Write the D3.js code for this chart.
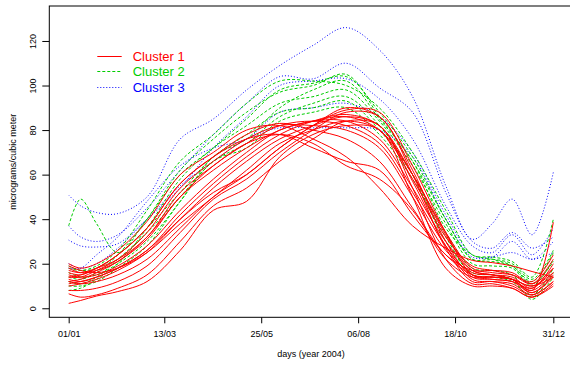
<!DOCTYPE html>
<html>
<head>
<meta charset="utf-8">
<script src="https://cdn.jsdelivr.net/npm/d3@7"></script>
<style>
  body { margin: 0; background: #fff; }
  text { font-family: "Liberation Sans", Arial, Helvetica, sans-serif; }
</style>
</head>
<body>
<div id="chart"></div>
<script>
// day of year where each curve is sampled
const days = [1, 10, 22, 38, 60, 85, 110, 135, 160, 185, 210, 235, 260, 285, 305, 320, 335, 350, 366];

// cluster 1 (red, solid)
const cluster1 = [
  [20, 18, 20, 26, 39, 60, 70, 80, 82, 76, 68, 54, 37, 27, 21.5, 20.5, 19, 16.5, 14],
  [14, 15, 18, 24, 36, 56, 68, 76, 78, 72, 66, 62, 42, 24, 15, 14, 13, 10, 16],
  [17, 16, 18, 22, 32, 52, 64, 74, 78, 74, 64, 58, 44, 22, 14, 14, 13, 10, 14],
  [16, 15, 18, 24, 36, 56, 68, 78, 83, 80, 76, 66, 45, 24, 17, 17, 16, 11, 18],
  [14, 14, 17, 22, 34, 54, 66, 76, 82, 82, 80, 72, 50, 26, 16, 15, 14, 9, 20],
  [18, 16, 17, 21, 32, 50, 64, 74, 82, 84, 82, 74, 52, 28, 15, 14, 13, 8, 38.6],
  [12, 13, 16, 21, 31, 50, 62, 72, 80, 84, 84, 76, 54, 30, 17, 15, 13, 7, 14],
  [15, 14, 15, 19, 28, 44, 58, 70, 80, 84, 86, 80, 58, 32, 19, 17, 15, 11, 22],
  [13, 12, 14, 18, 26, 42, 56, 68, 78, 84, 87, 82, 60, 33, 17, 15, 13, 8, 16],
  [10, 11, 13, 17, 25, 40, 54, 66, 76, 82, 86, 82, 57, 28, 13, 12, 11, 6, 12],
  [19, 17, 16, 18, 25, 38, 50, 62, 74, 80, 84, 80, 60, 34, 18, 16, 15, 12, 24],
  [2.2, 3.5, 5.5, 7.5, 12, 26, 44, 48, 68, 78, 82, 80, 50, 18, 10, 10, 9, 5, 10],
  [6.5, 5, 6, 9, 15, 30, 46, 54, 66, 76, 84, 82, 54, 22, 11, 11, 9, 5, 11],
  [8, 8, 9, 12, 19, 34, 49, 58, 70, 80, 88, 86, 60, 27, 12, 12, 10, 6, 12],
  [12, 11, 12, 15, 22, 36, 50, 60, 72, 82, 89, 88, 64, 34, 15, 13, 12, 7, 15],
  [11, 12, 14, 18, 26, 40, 52, 60, 72, 82, 90, 86, 62, 30, 14, 13, 12, 9, 18]
];

// cluster 2 (green, dashed)
const cluster2 = [
  [37, 49, 38, 25, 40, 60, 72, 85, 98, 101, 104, 88, 68, 40, 22, 21, 19, 12, 25],
  [18, 17, 19, 26, 44, 66, 78, 92, 102, 102, 100, 90, 70, 44, 24, 23, 21, 14, 40],
  [14, 13, 16, 24, 40, 62, 76, 88, 97, 100, 105, 86, 66, 40, 22, 22, 20, 13, 26],
  [8, 9, 13, 20, 36, 58, 72, 82, 92, 95, 98, 84, 64, 38, 20, 19, 18, 10, 22],
  [19, 17, 18, 24, 36, 52, 68, 78, 88, 90, 93, 80, 60, 34, 18, 17, 15, 6, 18],
  [12, 11, 14, 22, 34, 50, 66, 74, 86, 92, 95, 82, 60, 30, 16, 15, 13, 4, 14],
  [16, 14, 15, 20, 30, 48, 68, 76, 90, 98, 102, 85, 66, 36, 24, 22, 19, 11, 21],
  [10, 10, 12, 18, 28, 48, 66, 72, 84, 88, 90, 78, 58, 32, 15, 14, 12, 5, 16]
];

// cluster 3 (blue, dotted)
const cluster3 = [
  [50.8, 46, 43, 42.5, 50, 76, 85, 98, 109, 118, 126, 116, 95, 55, 31, 38, 49, 33, 61],
  [37, 32, 30, 33, 45, 62, 78, 92, 104, 103, 110, 99, 88, 52, 30, 27, 34, 27, 32],
  [30.6, 28, 27.5, 29, 40, 54, 72, 86, 100, 102, 103, 94, 76, 46, 28, 25, 33, 24, 36],
  [18, 18, 24, 32, 48, 64, 72, 76, 88, 90, 92, 86, 70, 42, 24, 23, 30, 22, 30],
  [20, 18, 20, 27, 40, 55, 66, 76, 81, 81, 81, 80, 68, 40, 23, 23, 25, 22, 25]
];

const xTickDays = [1, 73, 146, 219, 292, 366];
const xTickLabels = ['01/01', '13/03', '25/05', '06/08', '18/10', '31/12'];
const yTicks = [0, 20, 40, 60, 80, 100, 120];
const legendLabels = ['Cluster 1', 'Cluster 2', 'Cluster 3'];

const colors = ['#ff0000', '#00cd00', '#0000ff'];
const dashes = [null, '3,2', '1,2'];

const width = 570, height = 365;
const plot = { left: 49.3, right: 572.7, top: 6, bottom: 317.3 };

const svg = d3.select('#chart')
  .append('svg')
  .attr('width', width)
  .attr('height', height);

const x = d3.scaleLinear().domain([-13.6, 380.6]).range([plot.left, plot.right]);
const y = d3.scaleLinear().domain([-4.05, 135.7]).range([plot.bottom, plot.top]);

const line = d3.line()
  .x((d, i) => x(days[i]))
  .y(d => y(d))
  .curve(d3.curveCatmullRom.alpha(0.5));

const clusters = [cluster3, cluster2, cluster1];
const clusterIdx = [2, 1, 0];

clusters.forEach((curves, k) => {
  const c = clusterIdx[k];
  svg.append('g')
    .selectAll('path')
    .data(curves)
    .join('path')
    .attr('d', line)
    .attr('fill', 'none')
    .attr('stroke', colors[c])
    .attr('stroke-width', 1)
    .attr('stroke-dasharray', dashes[c]);
});

// box
svg.append('rect')
  .attr('x', plot.left)
  .attr('y', plot.top)
  .attr('width', plot.right - plot.left)
  .attr('height', plot.bottom - plot.top)
  .attr('fill', 'none')
  .attr('stroke', '#000')
  .attr('stroke-width', 1);

const xAxis = svg.append('g')
  .attr('transform', `translate(0,${plot.bottom})`)
  .call(d3.axisBottom(x)
    .tickValues(xTickDays)
    .tickFormat((d, i) => xTickLabels[i])
    .tickSize(6));
xAxis.select('.domain').remove();
xAxis.selectAll('text')
  .attr('y', 20)
  .attr('dy', 0)
  .style('font-size', '9px')
  .style('fill', '#000');

const yAxis = svg.append('g')
  .attr('transform', `translate(${plot.left},0)`)
  .call(d3.axisLeft(y).tickValues(yTicks).tickSize(7));
yAxis.select('.domain').remove();
yAxis.selectAll('text')
  .attr('transform', 'rotate(-90)')
  .attr('x', 0)
  .attr('y', -13)
  .attr('dy', 0)
  .attr('text-anchor', 'middle')
  .style('font-size', '9px')
  .style('fill', '#000');

svg.append('text')
  .attr('x', (plot.left + plot.right) / 2)
  .attr('y', 357)
  .attr('text-anchor', 'middle')
  .style('font-size', '9px')
  .text('days (year 2004)');

svg.append('text')
  .attr('transform', `translate(16,${(plot.top + plot.bottom) / 2}) rotate(-90)`)
  .attr('text-anchor', 'middle')
  .style('font-size', '9px')
  .text('micrograms/cubic meter');

// legend
const legendY = [56.5, 71.5, 87.5];
legendLabels.forEach((label, i) => {
  svg.append('line')
    .attr('x1', 97.3)
    .attr('x2', 121.7)
    .attr('y1', legendY[i])
    .attr('y2', legendY[i])
    .attr('stroke', colors[i])
    .attr('stroke-width', 1)
    .attr('stroke-dasharray', dashes[i]);
  svg.append('text')
    .attr('x', 132.7)
    .attr('y', legendY[i] + 4.5)
    .style('font-size', '13px')
    .style('fill', colors[i])
    .text(label);
});
</script>
</body>
</html>
